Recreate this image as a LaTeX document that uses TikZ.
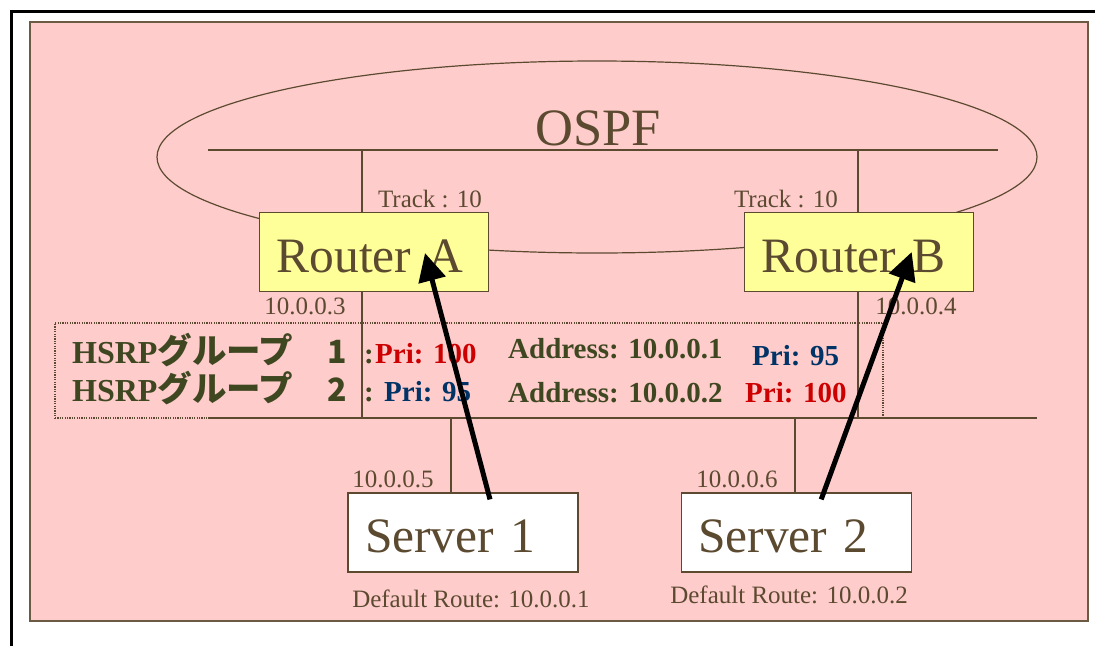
\documentclass[tikz,border=0pt]{standalone}
\usepackage{fontspec}
\setmainfont{Liberation Serif}
\newfontfamily\jpfont{Noto Sans CJK JP}
\usepackage{tikz}
\usetikzlibrary{arrows.meta,positioning,calc}
\definecolor{Ink}{HTML}{5C4A30}
\definecolor{Olive}{HTML}{3F4721}
\definecolor{Frame}{HTML}{6B5B45}
\definecolor{Blush}{HTML}{FFCCCC}
\definecolor{Lemon}{HTML}{FFFF99}
\definecolor{PriRed}{HTML}{CC0000}
\definecolor{PriBlue}{HTML}{003366}
\tikzset{
  net/.style={draw=Ink,line width=1.2pt},
  box/.style={draw=Ink,line width=1.2pt,minimum height=79pt,inner xsep=17pt,inner ysep=0pt,text height=40pt,text depth=0pt,align=left,text=Ink,font=\fontsize{49.5}{52}\selectfont},
  router/.style={box,fill=Lemon,text width=195pt},
  server/.style={box,fill=white,text width=196pt},
  addr/.style={inner sep=0pt,anchor=base,text=Ink,font=\fontsize{25}{27}\selectfont},
  grp/.style={inner sep=0pt,anchor=base west,text=Olive,font=\bfseries\fontsize{32}{34}\selectfont},
  info/.style={inner sep=0pt,anchor=base west,text=Olive,font=\bfseries\fontsize{29}{31}\selectfont},
  prired/.style={info,text=PriRed},
  priblue/.style={info,text=PriBlue},
  track/.style={-{Triangle[length=28pt,width=27pt]},line width=5pt,draw=black}
}
\newcommand{\grpname}[1]{HSRP{\jpfont\fontsize{34.5}{36}\selectfont グループ　{\fontsize{32}{34}\selectfont #1}}}
\begin{document}
\begin{tikzpicture}[x=1pt,y=-1pt,node distance=12pt]
  \useasboundingbox (0,0) rectangle (1095,646);
  % outer frame and panel
  \draw[line width=3pt] (11.5,646) -- (11.5,11.5) -- (1095,11.5);
  \draw[draw=Frame,fill=Blush,line width=1.2pt] (30,22) rectangle (1088,621);
  % OSPF area
  \draw[net] (597,157) ellipse [x radius=440pt,y radius=96pt];
  \node[inner sep=0pt,text=Ink,font=\fontsize{52.5}{55}\selectfont] (ospf) at (598,128) {OSPF};
  \coordinate (topW) at (208,150);
  \coordinate (topE) at (998,150);
  \coordinate (lanW) at (208,418);
  \coordinate (lanE) at (1037,418);
  \coordinate (tapA) at (362,150);
  \coordinate (tapB) at (858,150);
  \coordinate (tapS1) at (451,418);
  \coordinate (tapS2) at (795,418);
  \draw[net] (topW) -- (topE);
  \draw[net] (lanW) -- (lanE);
  % routers and servers
  \node[router] (ra) at (374,252) {Router A};
  \node[router,right=255pt of ra] (rb) {Router B};
  \node[server] (s1) at (463,532.5) {Server 1};
  \node[server,right=102pt of s1] (s2) {Server 2};
  \draw[net] (tapA) -- (tapA |- ra.north);
  \draw[net] (tapB) -- (tapB |- rb.north);
  \draw[net] (ra.south -| tapA) -- (tapA |- lanW);
  \draw[net] (rb.south -| tapB) -- (tapB |- lanW);
  \draw[net] (tapS1) -- (tapS1 |- s1.north);
  \draw[net] (tapS2) -- (tapS2 |- s2.north);
  % labels
  \node[addr] (trkA) at (430,207) {Track : 10};
  \node[addr] (trkB) at (786,207) {Track : 10};
  \node[addr] (ipA) at (305,314) {10.0.0.3};
  \node[addr] (ipB) at (916,314) {10.0.0.4};
  \node[addr] (ipS1) at (393,487) {10.0.0.5};
  \node[addr] (ipS2) at (737,487) {10.0.0.6};
  \node[addr] (gwS1) at (471,607) {Default Route: 10.0.0.1};
  \node[addr] (gwS2) at (789,603) {Default Route: 10.0.0.2};
  % HSRP groups
  \node[draw=Ink,line width=1.2pt,dash pattern=on 1.2pt off 1.2pt,minimum width=828pt,minimum height=95pt,inner sep=0pt] (hsrp) at (469,370.5) {};
  \node[grp] (g1) at (72,363) {\grpname{1}};
  \node[grp] (g2) at (72,401) {\grpname{2}};
  \node[info] (c1) at (364,363) {:};
  \node[info] (c2) at (364,401) {:};
  \node[prired] (p1a) at (375,363) {Pri: 100};
  \node[priblue] (p2a) at (384,401) {Pri: 95};
  \node[info] (v1) at (508,358) {Address: 10.0.0.1};
  \node[info] (v2) at (508,402) {Address: 10.0.0.2};
  \node[priblue] (p1b) at (752,365) {Pri: 95};
  \node[prired] (p2b) at (745,402) {Pri: 100};
  % tracking arrows
  \coordinate (s1from) at ($(s1.north)+(27,7)$);
  \coordinate (s2from) at ($(s2.north)+(25,7)$);
  \coordinate (raTo) at ($(ra.center)+(51,1)$);
  \coordinate (rbTo) at ($(rb.center)+(52.5,0)$);
  \draw[track] (s1from) -- (raTo);
  \draw[track] (s2from) -- (rbTo);
\end{tikzpicture}
\end{document}
